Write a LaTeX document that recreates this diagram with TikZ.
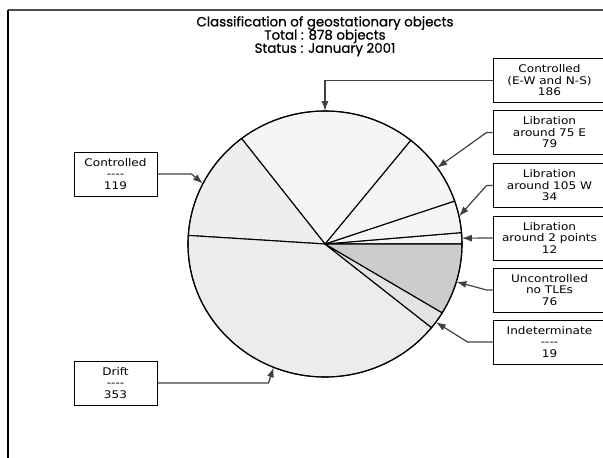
\documentclass[tikz,border=0pt]{standalone}
\usepackage{fontspec}
\setmainfont{DejaVu Sans}
\newfontfamily\titlefont{Poppins}[FakeBold=0.7]
\newfontfamily\labfont{DejaVu Sans}[FakeStretch=1.15]
\usetikzlibrary{arrows.meta,calc}
\newcommand{\dsh}{-\kern0pt-\kern0pt-\kern0pt-}
\newcommand{\tightlines}{\lineskiplimit=-20pt\relax\lineskip=0pt\relax}
\begin{document}
\begin{tikzpicture}[x=1pt,y=-1pt,
  slice/.style={draw=black, line width=1.1pt},
  lbox/.style={draw=black, line width=0.9pt, fill=white, rectangle, minimum height=44pt,
    align=center, inner sep=0pt, font=\labfont\fontsize{10.5}{11.5}\selectfont},
  rbox/.style={lbox, minimum width=113pt},
  leftbox/.style={lbox, minimum width=83pt},
  conn/.style={draw=black!75, line width=1.2pt, -{Latex[length=10pt,width=7pt]}},
]
\useasboundingbox (0,0) rectangle (603,458);
% frame
\draw[line width=1.6pt, black!70] (8,10) -- (603,10);
\draw[line width=1.3pt] (8,10) -- (8,458);
% title
\node[font=\titlefont\fontsize{13.4}{13.2}\selectfont\tightlines, align=center, anchor=north, inner sep=0pt] (title) at (325,16)
  {Classification of geostationary objects\\Total : 878 objects\\Status : January 2001};
% pie
\coordinate (C) at (325,244);
\newcommand{\slice}[3]{\filldraw[slice, fill=#3] (C) -- ++({137*cos(#1)},{133*sin(#1)})
  arc[start angle=#1, end angle=#2, x radius=137, y radius=133] -- cycle;}
\slice{0}{-4.92}{gray!8}
\slice{-4.92}{-18.86}{gray!8}
\slice{-18.86}{-51.25}{gray!8}
\slice{-51.25}{-127.51}{gray!8}
\slice{-127.51}{-176.30}{gray!13}
\slice{-176.30}{-321.04}{gray!15}
\slice{-321.04}{-328.84}{gray!22}
\slice{-328.84}{-360}{gray!40}
\draw[slice] (C) ellipse[x radius=137, y radius=133];
% arrow targets on the rim
\coordinate (tEW) at ($(C)+({137*cos(-90)},{133*sin(-90)})$);
\coordinate (t75) at ($(C)+({137*cos(-35)},{133*sin(-35)})$);
\coordinate (t105) at ($(C)+({137*cos(-12)},{133*sin(-12)})$);
\coordinate (t2) at ($(C)+({137*cos(-2.5)},{133*sin(-2.5)})$);
\coordinate (tU) at ($(C)+({137*cos(16.5)},{133*sin(16.5)})$);
\coordinate (tI) at ($(C)+({137*cos(36)},{133*sin(36)})$);
\coordinate (tD) at ($(C)+({137*cos(112)},{133*sin(112)})$);
\coordinate (t119) at ($(C)+({137*cos(-153)},{133*sin(-153)})$);
% boxes
\node[rbox] (b1) at (549.5,80.5) {Controlled\\(E-W and N-S)\\186};
\node[rbox] (b2) at (549.5,132.5) {Libration\\around 75 E\\79};
\node[rbox] (b3) at (549.5,185.5) {Libration\\around 105 W\\34};
\node[rbox] (b4) at (549.5,238) {Libration\\around 2 points\\12};
\node[rbox] (b5) at (549.5,290) {Uncontrolled\\no TLEs\\76};
\node[rbox] (b6) at (549.5,342) {Indeterminate\\\dsh\\19};
\node[leftbox] (bc) at (115.5,174) {Controlled\\\dsh\\119};
\node[leftbox] (bd) at (115.5,383) {Drift\\\dsh\\353};
% connectors
\draw[conn] (b1.west) -| (tEW);
\draw[conn] (b2.west) -- ++(-6,0) -- (t75);
\draw[conn] (b3.west) -- ++(-6,0) -- (t105);
\draw[conn] (b4.west) -- (t2);
\draw[conn] (b5.west) -- ++(-6,0) -- (tU);
\draw[conn] (b6.west) -- ++(-25,0) -- (tI);
\draw[conn] (bc.east) -- ++(34,0) -- (t119);
\draw[conn] (bd.east) -- ++(111,0) -- (tD);
\end{tikzpicture}
\end{document}
